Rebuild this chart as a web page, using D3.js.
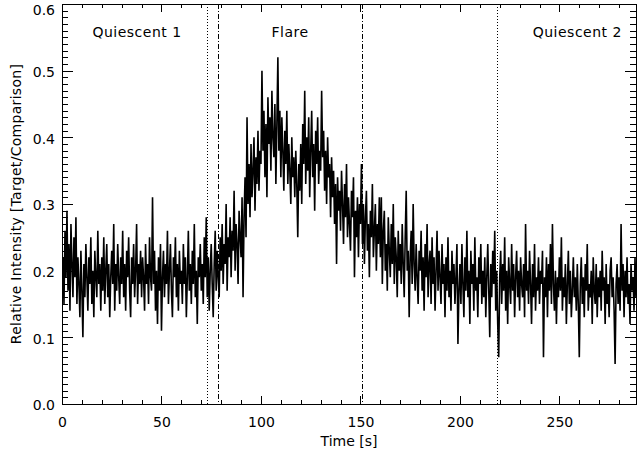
<!DOCTYPE html>
<html>
<head>
<meta charset="utf-8">
<script src="https://cdn.jsdelivr.net/npm/d3@7"></script>
<style>
body { margin: 0; background: #fff; }
text { font-family: "DejaVu Sans", sans-serif; fill: #000; }
</style>
</head>
<body>
<div id="chart"></div>
<script>
// light curve, one sample every 0.5 s starting at t = 0
var dt = 0.5
var intensity = [
  0.18,0.22,0.15,0.26,0.19,0.29,0.17,0.24,0.14,0.27,0.21,0.16,0.25,0.19,0.28,0.15,0.22,0.18,0.13,0.23,
  0.17,0.10,0.21,0.16,0.24,0.19,0.14,0.22,0.18,0.25,0.15,0.20,0.13,0.23,0.19,0.16,0.26,0.18,0.21,0.14,
  0.22,0.17,0.25,0.15,0.20,0.24,0.16,0.21,0.13,0.19,0.23,0.18,0.27,0.14,0.21,0.17,0.24,0.19,0.15,0.22,
  0.18,0.26,0.16,0.21,0.14,0.23,0.19,0.25,0.17,0.13,0.22,0.18,0.24,0.16,0.20,0.27,0.15,0.21,0.18,0.23,
  0.16,0.22,0.19,0.14,0.24,0.18,0.21,0.15,0.25,0.19,0.17,0.31,0.18,0.23,0.14,0.20,0.12,0.22,0.17,0.24,
  0.11,0.19,0.23,0.16,0.21,0.18,0.26,0.15,0.20,0.24,0.17,0.13,0.22,0.19,0.25,0.16,0.21,0.14,0.23,0.18,
  0.20,0.15,0.24,0.18,0.22,0.13,0.19,0.26,0.17,0.21,0.15,0.23,0.18,0.27,0.16,0.20,0.12,0.22,0.19,0.24,
  0.17,0.21,0.15,0.25,0.19,0.28,0.16,0.22,0.14,0.20,0.24,0.18,0.13,0.21,0.26,0.17,0.23,0.19,0.16,0.25,
  0.20,0.27,0.18,0.24,0.21,0.30,0.17,0.25,0.22,0.28,0.19,0.26,0.23,0.32,0.20,0.27,0.24,0.18,0.29,0.25,
  0.22,0.31,0.16,0.28,0.34,0.25,0.43,0.30,0.36,0.28,0.39,0.31,0.35,0.40,0.29,0.37,0.33,0.41,0.32,0.38,
  0.36,0.50,0.38,0.44,0.34,0.42,0.31,0.46,0.39,0.43,0.35,0.47,0.40,0.37,0.45,0.33,0.42,0.52,0.38,0.44,
  0.34,0.43,0.38,0.32,0.41,0.36,0.44,0.33,0.39,0.35,0.30,0.40,0.34,0.37,0.31,0.38,0.33,0.25,0.36,0.32,
  0.39,0.30,0.42,0.36,0.47,0.33,0.40,0.35,0.43,0.31,0.38,0.44,0.34,0.39,0.29,0.41,0.36,0.43,0.33,0.38,
  0.35,0.47,0.37,0.41,0.32,0.38,0.30,0.40,0.34,0.36,0.28,0.37,0.31,0.35,0.27,0.33,0.21,0.34,0.29,0.32,
  0.26,0.35,0.30,0.24,0.33,0.28,0.36,0.25,0.31,0.27,0.23,0.32,0.28,0.34,0.19,0.29,0.25,0.31,0.22,0.30,
  0.27,0.36,0.24,0.30,0.21,0.28,0.32,0.23,0.27,0.19,0.29,0.25,0.33,0.22,0.26,0.30,0.20,0.27,0.24,0.31,
  0.22,0.31,0.18,0.26,0.29,0.20,0.24,0.17,0.28,0.23,0.19,0.27,0.21,0.30,0.18,0.25,0.22,0.16,0.26,0.20,
  0.24,0.18,0.27,0.21,0.16,0.25,0.32,0.20,0.23,0.13,0.22,0.26,0.18,0.30,0.21,0.17,0.24,0.19,0.15,0.23,
  0.20,0.26,0.17,0.22,0.14,0.24,0.19,0.27,0.16,0.21,0.23,0.15,0.25,0.18,0.22,0.14,0.20,0.26,0.17,0.23,
  0.19,0.15,0.24,0.18,0.21,0.13,0.22,0.17,0.25,0.16,0.20,0.14,0.23,0.18,0.21,0.15,0.19,0.24,0.09,0.17,
  0.21,0.15,0.24,0.18,0.13,0.22,0.17,0.26,0.16,0.20,0.12,0.23,0.18,0.21,0.14,0.25,0.17,0.19,0.13,0.22,
  0.18,0.24,0.15,0.20,0.16,0.22,0.13,0.19,0.24,0.17,0.10,0.21,0.16,0.23,0.18,0.26,0.14,0.20,0.12,0.07,
  0.19,0.23,0.15,0.21,0.17,0.25,0.14,0.20,0.12,0.22,0.18,0.15,0.24,0.17,0.21,0.13,0.19,0.23,0.16,0.20,
  0.14,0.22,0.18,0.16,0.21,0.13,0.27,0.17,0.20,0.15,0.23,0.18,0.12,0.21,0.16,0.24,0.14,0.19,0.17,0.22,
  0.15,0.20,0.18,0.23,0.07,0.19,0.16,0.22,0.13,0.21,0.17,0.24,0.15,0.27,0.18,0.14,0.20,0.12,0.19,0.16,
  0.22,0.17,0.25,0.14,0.19,0.16,0.21,0.12,0.18,0.23,0.15,0.20,0.13,0.17,0.22,0.16,0.19,0.14,0.21,0.15,
  0.07,0.18,0.22,0.15,0.19,0.13,0.21,0.17,0.24,0.14,0.18,0.16,0.20,0.12,0.22,0.17,0.15,0.21,0.13,0.19,
  0.16,0.20,0.14,0.23,0.17,0.19,0.12,0.21,0.15,0.18,0.13,0.20,0.22,0.16,0.19,0.14,0.06,0.18,0.21,0.15,
  0.19,0.14,0.27,0.17,0.21,0.13,0.20,0.16,0.22,0.15,0.18,0.12,0.21,0.17,0.19,0.14,0.22,0.16,0.20
]

var xTicks = [0, 50, 100, 150, 200, 250]
var yTicks = [0.0, 0.1, 0.2, 0.3, 0.4, 0.5, 0.6]

var regionNames = ["Quiescent 1", "Flare", "Quiescent 2"]
var regionCentres = [37.7, 114.6, 259]
var dottedTimes = [73, 218.6]
var dashDotTimes = [78.4, 151]

var margin = {top: 4, right: 2, bottom: 48, left: 62},
    width = 638 - margin.left - margin.right,
    height = 452 - margin.top - margin.bottom;

var svg = d3.select("#chart")
  .append("svg")
    .attr("width", width + margin.left + margin.right)
    .attr("height", height + margin.top + margin.bottom)
  .append("g")
    .attr("transform", "translate(" + margin.left + "," + margin.top + ")");

var x = d3.scaleLinear()
  .domain([0, 288.5])
  .range([0, width]);

var y = d3.scaleLinear()
  .domain([0, 0.6])
  .range([height, 0]);

svg.append("clipPath")
    .attr("id", "plotArea")
  .append("rect")
    .attr("width", width)
    .attr("height", height);

// the light curve
var line = d3.line()
  .x(function (d, i) { return x(i * dt); })
  .y(function (d) { return y(d); });

svg.append("path")
  .datum(intensity)
  .attr("clip-path", "url(#plotArea)")
  .attr("d", line)
  .attr("fill", "none")
  .attr("stroke", "#000")
  .attr("stroke-width", 1.6)
  .attr("stroke-linejoin", "bevel");

// interval markers
svg.selectAll(".dotted")
  .data(dottedTimes)
  .enter()
  .append("line")
    .attr("x1", function (d) { return Math.round(x(d)) + 0.5; })
    .attr("x2", function (d) { return Math.round(x(d)) + 0.5; })
    .attr("y1", 0)
    .attr("y2", height)
    .attr("stroke", "#000")
    .attr("stroke-dasharray", "1,2");

svg.selectAll(".dashdot")
  .data(dashDotTimes)
  .enter()
  .append("line")
    .attr("x1", function (d) { return Math.round(x(d)) + 0.5; })
    .attr("x2", function (d) { return Math.round(x(d)) + 0.5; })
    .attr("y1", 0)
    .attr("y2", height)
    .attr("stroke", "#000")
    .attr("stroke-dasharray", "5,2,1,2");

svg.selectAll(".region")
  .data(regionNames)
  .enter()
  .append("text")
    .attr("x", function (d, i) { return x(regionCentres[i]); })
    .attr("y", 33)
    .attr("text-anchor", "middle")
    .style("font-size", "14px")
    .style("letter-spacing", "0.5px")
    .text(function (d) { return d; });

// box axes with inward ticks, IDL style
var xMinor = d3.range(0, 289, 10)
var yMinor = d3.range(0, 61).map(function (d) { return d / 100; })

function styleAxis(g) {
  g.selectAll("path, line").attr("stroke", "#000").attr("shape-rendering", "crispEdges");
  g.selectAll("text").style("font-size", "14px").attr("fill", "#000");
}

svg.append("g")
  .attr("transform", "translate(0," + height + ")")
  .call(d3.axisBottom(x).tickValues(xMinor).tickSize(-4).tickSizeOuter(0).tickFormat(""))
  .call(styleAxis);
svg.append("g")
  .attr("transform", "translate(0," + height + ")")
  .call(d3.axisBottom(x).tickValues(xTicks).tickSize(-8).tickSizeOuter(0).tickPadding(13))
  .call(styleAxis);

svg.append("g")
  .call(d3.axisTop(x).tickValues(xMinor).tickSize(-4).tickSizeOuter(0).tickFormat(""))
  .call(styleAxis);
svg.append("g")
  .call(d3.axisTop(x).tickValues(xTicks).tickSize(-8).tickSizeOuter(0).tickFormat(""))
  .call(styleAxis);

svg.append("g")
  .call(d3.axisLeft(y).tickValues(yMinor).tickSize(-6).tickSizeOuter(0).tickFormat(""))
  .call(styleAxis);
svg.append("g")
  .call(d3.axisLeft(y).tickValues(yTicks).tickSize(-11).tickSizeOuter(0).tickPadding(7).tickFormat(d3.format(".1f")))
  .call(styleAxis)
  .selectAll("text")
    .attr("dy", function (d) { return d === 0.6 ? "0.75em" : "0.42em"; });

svg.append("g")
  .attr("transform", "translate(" + width + ",0)")
  .call(d3.axisRight(y).tickValues(yMinor).tickSize(-6).tickSizeOuter(0).tickFormat(""))
  .call(styleAxis);
svg.append("g")
  .attr("transform", "translate(" + width + ",0)")
  .call(d3.axisRight(y).tickValues(yTicks).tickSize(-11).tickSizeOuter(0).tickFormat(""))
  .call(styleAxis);

svg.append("text")
  .attr("x", width / 2)
  .attr("y", height + 42)
  .attr("text-anchor", "middle")
  .style("font-size", "14px")
  .text("Time [s]");

svg.append("text")
  .attr("transform", "translate(-41," + (height / 2) + ") rotate(-90)")
  .attr("text-anchor", "middle")
  .style("font-size", "14px")
  .style("letter-spacing", "0.3px")
  .text("Relative Intensity [Target/Comparison]");
</script>
</body>
</html>
